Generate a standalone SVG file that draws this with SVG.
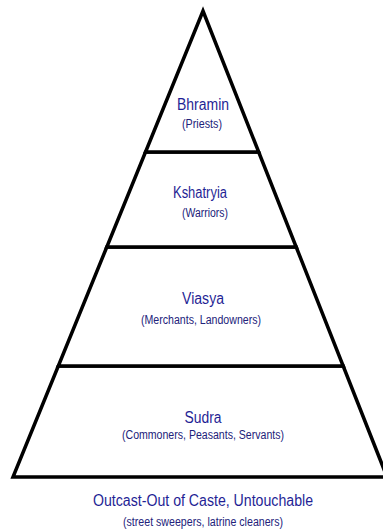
<svg xmlns="http://www.w3.org/2000/svg" width="383" height="531" viewBox="0 0 383 531">
<style>
.band{fill:#ffffff;stroke:#000000;stroke-width:3.5;stroke-linejoin:miter}
.t{font-family:"Liberation Sans",Arial,sans-serif;font-size:16px;fill:#1f1f95;text-anchor:middle}
.s{font-family:"Liberation Sans",Arial,sans-serif;font-size:12px;fill:#22227a;text-anchor:middle}
</style>
<rect width="383" height="531" fill="#ffffff"/>
<g id="connectors"></g>
<g id="sudra">
<polygon class="band" points="58.3,366 343.2,366 387,477 13,477"/>
<text class="t" x="203" y="423" textLength="37" lengthAdjust="spacingAndGlyphs">Sudra</text>
<text class="s" x="203" y="439" textLength="162" lengthAdjust="spacingAndGlyphs">(Commoners, Peasants, Servants)</text>
</g>
<g id="viasya">
<polygon class="band" points="106.8,247 296.2,247 343.2,366 58.3,366"/>
<text class="t" x="203" y="304" textLength="42" lengthAdjust="spacingAndGlyphs">Viasya</text>
<text class="s" x="201" y="324" textLength="120" lengthAdjust="spacingAndGlyphs">(Merchants, Landowners)</text>
</g>
<g id="kshatryia">
<polygon class="band" points="145.5,152 258.7,152 296.2,247 106.8,247"/>
<text class="t" x="200" y="198" textLength="54" lengthAdjust="spacingAndGlyphs">Kshatryia</text>
<text class="s" x="205" y="217" textLength="46" lengthAdjust="spacingAndGlyphs">(Warriors)</text>
</g>
<g id="bhramin">
<polygon class="band" points="203,11 258.7,152 145.5,152"/>
<text class="t" x="203" y="110" textLength="52" lengthAdjust="spacingAndGlyphs">Bhramin</text>
<text class="s" x="202" y="128" textLength="40" lengthAdjust="spacingAndGlyphs">(Priests)</text>
</g>
<g id="outcast">
<text class="t" x="203" y="506" textLength="220" lengthAdjust="spacingAndGlyphs">Outcast-Out of Caste, Untouchable</text>
<text class="s" x="203" y="526" textLength="160" lengthAdjust="spacingAndGlyphs">(street sweepers, latrine cleaners)</text>
</g>
</svg>
